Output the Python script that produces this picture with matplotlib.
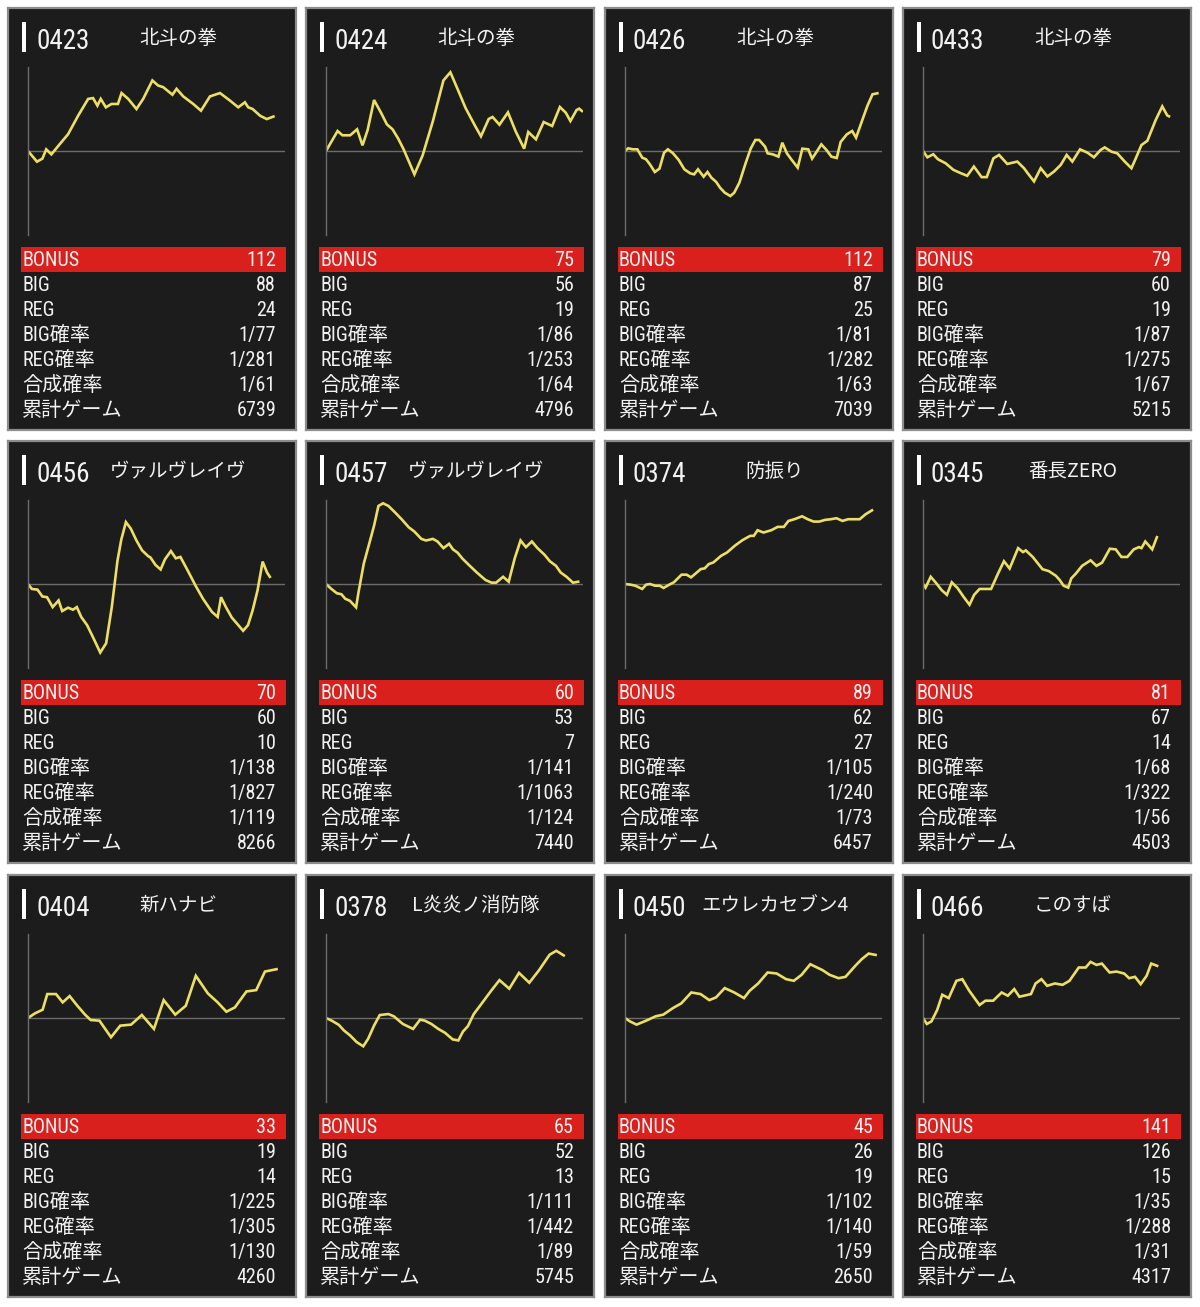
import matplotlib
matplotlib.use("Agg")
import matplotlib.pyplot as plt
import matplotlib.font_manager as fm
from matplotlib.patches import Rectangle

# machine info
machine_ids = ["0423", "0424", "0426", "0433",
               "0456", "0457", "0374", "0345",
               "0404", "0378", "0450", "0466"]
machine_names = ["北斗の拳", "北斗の拳", "北斗の拳", "北斗の拳",
                 "ヴァルヴレイヴ", "ヴァルヴレイヴ", "防振り", "番長ZERO",
                 "新ハナビ", "L炎炎ノ消防隊", "エウレカセブン4", "このすば"]
bonus = [112, 75, 112, 79, 70, 60, 89, 81, 33, 65, 45, 141]
big = [88, 56, 87, 60, 60, 53, 62, 67, 19, 52, 26, 126]
reg = [24, 19, 25, 19, 10, 7, 27, 14, 14, 13, 19, 15]
big_rate = [77, 86, 81, 87, 138, 141, 105, 68, 225, 111, 102, 35]
reg_rate = [281, 253, 282, 275, 827, 1063, 240, 322, 305, 442, 140, 288]
total_rate = [61, 64, 63, 67, 119, 124, 73, 56, 130, 89, 59, 31]
games = [6739, 4796, 7039, 5215, 8266, 7440, 6457, 4503, 4260, 5745, 2650, 4317]

row_labels = ["BIG", "REG", "BIG確率", "REG確率", "合成確率", "累計ゲーム"]

# slump graphs: (progress %, coin diff relative to axis half-height %)
diff_0423 = [(0, 0), (3.5, -12.7), (5.6, -9.1), (7.1, 2), (9.1, -4), (12.3, 8), (15.6, 20),
             (19.5, 42), (23.4, 62), (25.3, 63), (27, 54), (28.3, 62), (30.3, 52), (32.5, 56),
             (35, 56), (36.4, 69), (39, 62), (42.2, 50), (44.8, 62), (48.4, 84), (50.6, 78),
             (52.6, 76), (56.2, 67), (57.8, 74), (60.4, 65), (64.3, 56), (67.3, 48), (70.8, 65),
             (74.7, 69), (78.6, 60), (81.8, 52), (84.4, 58), (85.7, 52), (87.4, 50), (90.3, 42),
             (92.9, 38), (95.5, 41)]
diff_0424 = [(0, 0), (4.5, 23.8), (6.4, 18.7), (9.4, 18.7), (12.1, 25.8), (14.2, 6.7), (16.2, 25),
             (18.7, 60.7), (21.4, 45.6), (23.7, 31.7), (25.9, 25.8), (28.1, 14.7), (30.2, 2),
             (34.4, -27.8), (37.6, -5.2), (41.6, 35.7), (45.7, 84.1), (48.4, 93.7), (51.3, 73),
             (54.3, 51.2), (58.1, 29.4), (60.3, 17.5), (63.3, 38.1), (64.8, 40.5), (67.5, 31.3),
             (70.8, 46), (73.8, 23.4), (77.1, 2.8), (78.7, 22.6), (81.7, 13.9), (84.7, 34.5),
             (88, 29.8), (91, 52.4), (93.3, 45.6), (95.1, 35.7), (97.5, 48.8), (98.5, 50.4),
             (99.6, 47.6)]
diff_0426 = [(0, 0), (1.2, 3.2), (3, 2), (4.8, 2), (6.7, -7.9), (8.2, -9.9), (9.7, -15.9),
             (11.6, -25), (13.4, -21), (15.2, -2), (16.7, 2), (18.7, -2.8), (20.9, -10.7),
             (23.1, -21.8), (25.4, -26.6), (26.9, -27.8), (28.4, -21.8), (30.6, -30.6),
             (32.1, -25), (33.6, -31.7), (35.5, -36.9), (37, -43.7), (38.8, -49.6), (41, -53.6),
             (42.5, -49.6), (44.5, -37.7), (47, -13.9), (48.9, 2.8), (50.7, 13.1), (52.2, 13.1),
             (54.5, 5.2), (55.5, -2.8), (57.5, -4), (59.7, -6.7), (61.2, 9.9), (63, -2.8),
             (64.9, -10.7), (67.2, -19.8), (69, 2.8), (71.3, 2), (72.8, -9.1), (73.9, -4),
             (76.4, 7.9), (78.4, 1.2), (80.3, -6.7), (82.4, -8.3), (83.9, 10.7), (86.3, 19.8),
             (88.4, 23.8), (89.9, 15.9), (92.2, 35.7), (94.3, 53.6), (96.3, 67.5), (98.2, 68.7)]
diff_0433 = [(0, 0), (1.7, -7.5), (4, -3.9), (5.8, -9.8), (8.8, -14.6), (11.8, -22.4),
             (14.7, -26.4), (17.2, -29.5), (19.8, -18.5), (22.8, -31.1), (24.8, -31.1),
             (27.4, -8.7), (29.6, -4.7), (32.8, -15.4), (36.7, -12.6), (39.3, -20.5),
             (41.2, -28.3), (43.2, -36.2), (45.8, -20.5), (48.4, -30.3), (51, -24.4),
             (53.6, -16.5), (55.9, -4.7), (58.1, -12.6), (61.1, 2), (64, -2), (66.5, -7.5),
             (69.1, 1.2), (70.7, 4.3), (73.3, -0.8), (75.6, -2.8), (78.5, -12.6), (81.1, -20.5),
             (82.8, -8.7), (85, 7.1), (87.3, 12.2), (90.5, 36.6), (93.1, 53.1), (95, 42.5),
             (95.7, 41.3)]
diff_0456 = [(0, 0), (1.5, -5.9), (3.7, -6.7), (5.6, -14.9), (7.4, -15.7), (9.6, -27.5),
             (11.9, -19.6), (13.3, -32.2), (15.6, -28.2), (17.5, -30.6), (19, -27.5),
             (20.7, -39.2), (23, -49), (25.5, -64.7), (28.1, -81.6), (30.4, -70.6), (32.6, -27.5),
             (34.8, 27.5), (36.3, 52.9), (38.1, 73.7), (40, 65.9), (42.2, 51.8), (44.4, 40),
             (46.7, 33.3), (47.7, 31.4), (49.6, 22.7), (51.6, 17.3), (53.3, 29.4), (55.6, 39.2),
             (57.5, 30.6), (59.3, 32.2), (62.2, 15.7), (65.2, -2), (68.1, -17.6), (71.6, -33.3),
             (73.8, -39.2), (75.1, -15.7), (77, -27.5), (79.3, -40), (81.5, -47.8), (83.7, -55.7),
             (85.6, -49), (87.4, -31.4), (89.3, -7.8), (91.3, 26.7), (93, 13.7), (94.1, 8.6)]
diff_0457 = [(0, 0), (1.8, -5.1), (4.2, -11), (6, -12.2), (7.5, -17.6), (9.3, -20), (11.7, -27.8),
             (12.7, -9), (14.7, 24.3), (16.8, 47.8), (18.7, 69.4), (20.4, 92.9), (22.2, 96.1),
             (24.3, 92.9), (26.9, 85.1), (29.6, 76.5), (32.2, 67.5), (34.4, 62.4), (37.1, 53.7),
             (38.9, 51.8), (41.6, 53.7), (43.4, 50.6), (45.7, 42.7), (47.9, 47.8), (49.4, 41.2),
             (51.2, 37.3), (53.1, 30.2), (55.7, 22.4), (58.4, 14.5), (60.6, 8.6), (62.1, 4.7),
             (64.4, 1.6), (66.2, 1.6), (68.9, 8.6), (71.1, 2.7), (73.4, 30.2), (75.7, 51.8),
             (77.8, 43.9), (80.1, 50.6), (82.3, 42.7), (85, 34.9), (87.1, 27.1), (89.5, 21.6),
             (91.3, 13.7), (93.6, 8.6), (96.1, 1.6), (98.1, 2.7)]
diff_0374 = [(0, 0), (2.2, -0.8), (4, -2), (6.7, -5.9), (8.2, -0.8), (9.7, 0), (11.7, -2),
             (13.5, -2), (15, -4.7), (17.2, -0.8), (19, 2), (22, 11.1), (24, 11.1), (25.7, 7.9),
             (29.5, 17.8), (31, 18.6), (32.6, 23.7), (34.4, 25.7), (37.4, 33.6), (39.7, 37.5),
             (42.7, 45.5), (45.7, 52.2), (48.7, 57.3), (50.1, 57.3), (51.6, 64), (53.9, 61.3),
             (56.9, 64), (59.4, 68), (61.8, 68), (63.6, 75.1), (65.9, 77.1), (68.9, 80.6),
             (71.1, 77.1), (73.4, 74.3), (75.6, 74.3), (77.8, 76.3), (80.1, 77.1), (82.3, 78.3),
             (84.6, 75.1), (86.8, 77.1), (89.1, 77.1), (91.3, 77.1), (93.6, 83), (96.1, 87.7)]
diff_0345 = [(0, 0), (1, -4.3), (3, 8.6), (5.2, 0.8), (7.2, -7.1), (9.3, -12.9), (11.2, 2),
             (13.5, -5.1), (15.7, -14.9), (18.1, -24.7), (19.9, -12.9), (22, -5.9), (24, -5.9),
             (26.5, -5.9), (29.2, 12.5), (31.5, 27.1), (33.7, 18.4), (37, 42.7), (38.9, 38),
             (40, 40), (42.7, 32.2), (46.5, 17.6), (49, 15.3), (51.7, 9.8), (53.2, 4.7),
             (54.7, -2), (56.5, -4.3), (57.7, 6.7), (59.5, 12.5), (61.9, 21.6), (65.2, 28.2),
             (67.5, 21.6), (69.7, 25.5), (72.7, 42), (75, 41.2), (77.2, 32.2), (79.5, 32.2),
             (82, 41.2), (84, 43.9), (85, 42.7), (86.5, 50.6), (89.2, 41.2), (91, 55.7)]
diff_0404 = [(0, 0), (2.7, 5.5), (5.7, 9.9), (7.5, 28.5), (10.9, 28.5), (13.5, 18.6), (16.2, 26.1),
             (19.2, 14.6), (22.2, 4), (24.4, -2.4), (27.8, -3.2), (32.3, -22.9), (35.9, -9.1),
             (40.1, -7.9), (44.3, 3.6), (49, -13), (52.8, 21.3), (57.3, 4), (61.4, 14.6),
             (65.3, 50.2), (70, 29.2), (73.8, 18.6), (77.2, 7.5), (80.5, 12.6), (85, 31.6),
             (88.8, 33.2), (92.2, 55.3), (96.7, 58.1)]
diff_0378 = [(0, 0), (2.2, -3.1), (5, -8.2), (7, -14.9), (9.4, -20.8), (11.9, -28.6), (14.5, -33.7),
             (16.4, -24.7), (18.7, -9), (20.9, 3.5), (24.3, 4.7), (26.4, 2), (29.9, -7.1),
             (33.9, -13), (36.6, -2), (38.4, -3.1), (41, -7.1), (43.7, -13), (46.3, -17.6),
             (49.3, -25.5), (51.5, -26.7), (53.3, -16.1), (55.2, -9.8), (57.5, 4.7), (60.4, 16.5),
             (64.2, 32.2), (67.5, 45.1), (71.3, 34.9), (75.1, 53.7), (79.1, 42), (82.8, 56.5),
             (87, 75.3), (89.6, 80), (92.5, 74.5)]
diff_0450 = [(0, 0), (1.9, -4), (4.5, -7.9), (8.2, -3.2), (11.9, 2), (14.9, 4), (18.7, 11.9),
             (21.9, 17.4), (25.8, 30.4), (29.4, 28.5), (32.8, 21.3), (35.4, 24.5), (38.8, 35.6),
             (42.5, 30.4), (46.3, 23.7), (48.5, 32.4), (51.8, 41.1), (55.5, 54.2), (59, 53),
             (62.7, 46.2), (65.7, 44.3), (68.7, 51.4), (72.1, 64), (76.9, 56.9), (79.6, 51.4),
             (83.1, 47.4), (85.8, 49), (89.6, 62.1), (92.1, 70), (94.8, 76.7), (97.5, 75.1)]
diff_0466 = [(0, 0), (1.5, -7.1), (3.3, -4), (5.5, 9.5), (7.5, 27.7), (10, 23.7), (13, 44.3),
             (15.3, 46.2), (18, 32.4), (22, 15.4), (24.3, 20.6), (27.3, 20.6), (30.6, 30.4),
             (33, 26.5), (35.5, 34.4), (37.5, 25.3), (42, 28.5), (43.8, 41.1), (46.1, 46.2),
             (48.3, 38.3), (51.3, 41.1), (54.3, 39.5), (57, 44.3), (60.6, 60.1), (63.3, 60.1),
             (65.2, 66.8), (67.5, 63.2), (69.6, 64.8), (72.6, 54.2), (75.3, 55.3), (78.3, 52.9),
             (80.2, 47.4), (82.5, 49), (84.7, 40.3), (87, 50.2), (88.8, 64.8), (91.1, 62.1)]

slumps = [diff_0423, diff_0424, diff_0426, diff_0433,
          diff_0456, diff_0457, diff_0374, diff_0345,
          diff_0404, diff_0378, diff_0450, diff_0466]

FIG_W, FIG_H = 1200, 1307
COL_X = [8, 306, 605, 903]
ROW_Y = [8, 441, 875]
PANEL_W, PANEL_H = 288, 422

BG = "#1c1c1c"
RED = "#d9201c"
YELLOW = "#ecdf62"
AXIS_GRAY = "#6c6c6c"
TEXT = "#f2f2f2"


def pick_fonts():
    "narrow latin font for digits, CJK font as fallback"
    names = {f.name for f in fm.fontManager.ttflist}
    latin = "DejaVu Sans"
    for cand in ["Roboto Condensed", "Liberation Sans Narrow", "Liberation Sans"]:
        if cand in names:
            latin = cand
            break
    return [latin, "Noto Sans CJK JP", "DejaVu Sans"]


def px_rect(left, top, w, h):
    return [left / FIG_W, 1 - (top + h) / FIG_H, w / FIG_W, h / FIG_H]


def draw_panel(fig, i, left, top, fam):
    # panel background, pixel coordinates inside
    pax = fig.add_axes(px_rect(left, top, PANEL_W, PANEL_H))
    pax.set_facecolor(BG)
    pax.set_xlim(0, PANEL_W)
    pax.set_ylim(PANEL_H, 0)
    pax.set_xticks([])
    pax.set_yticks([])
    for s in pax.spines.values():
        s.set_color("#8c8c8c")
        s.set_linewidth(1.6)

    # header
    pax.add_patch(Rectangle((14, 14), 4, 30, color="white", lw=0))
    pax.text(28, 41, machine_ids[i], color=TEXT, fontsize=19.5, family=fam, va="baseline")
    pax.text(170, 36, machine_names[i], color=TEXT, fontsize=14,
             family=["Noto Sans CJK JP", "DejaVu Sans"], ha="center", va="baseline")

    # bonus bar + rows
    pax.add_patch(Rectangle((13, 239), 265, 25, color=RED, lw=0))
    values = [bonus[i], big[i], reg[i], f"1/{big_rate[i]}", f"1/{reg_rate[i]}",
              f"1/{total_rate[i]}", games[i]]
    labels = ["BONUS"] + row_labels
    for k, (lab, val) in enumerate(zip(labels, values)):
        y = 258 + 25 * k
        pax.text(14, y, lab, color=TEXT, fontsize=14.5, family=fam, va="baseline")
        pax.text(268, y, str(val), color=TEXT, fontsize=14.5, family=fam,
                 va="baseline", ha="right")

    # slump graph
    cax = fig.add_axes(px_rect(left + 20, top + 59, 257, 168))
    cax.set_facecolor("none")
    cax.set_xlim(0, 100)
    cax.set_ylim(-100, 100)
    cax.set_xticks([])
    cax.set_yticks([])
    for name, s in cax.spines.items():
        s.set_visible(name == "left")
    cax.spines["left"].set_color(AXIS_GRAY)
    cax.spines["left"].set_linewidth(1.0)
    cax.axhline(0, color=AXIS_GRAY, lw=1.0)
    xs = [p[0] for p in slumps[i]]
    ys = [p[1] for p in slumps[i]]
    cax.plot(xs, ys, color=YELLOW, lw=1.9, solid_joinstyle="miter")


def main():
    fam = pick_fonts()
    fig = plt.figure(figsize=(FIG_W / 100, FIG_H / 100), dpi=100, facecolor="white")
    for i in range(len(machine_ids)):
        r, c = divmod(i, 4)
        draw_panel(fig, i, COL_X[c], ROW_Y[r], fam)
    fig.savefig("out.png", dpi=100, facecolor="white")


if __name__ == "__main__":
    main()
